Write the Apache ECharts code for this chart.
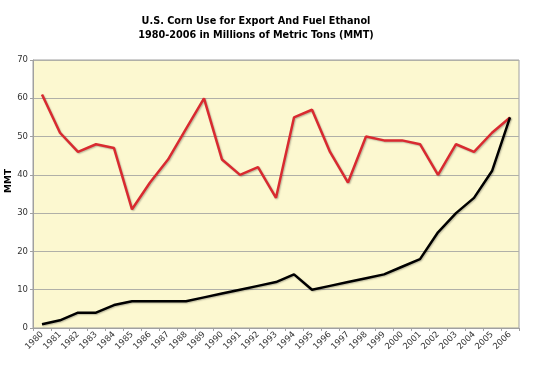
<!DOCTYPE html>
<html>
<head>
<meta charset="utf-8">
<script src="https://cdn.jsdelivr.net/npm/echarts@6/dist/echarts.min.js"></script>
<style>
  html, body { margin: 0; padding: 0; background: #fff; }
  #chart { width: 540px; height: 377px; }
</style>
</head>
<body>
<div id="chart"></div>
<script>
// years on the x axis
const years = ['1980', '1981', '1982', '1983', '1984', '1985', '1986', '1987', '1988', '1989',
  '1990', '1991', '1992', '1993', '1994', '1995', '1996', '1997', '1998', '1999',
  '2000', '2001', '2002', '2003', '2004', '2005', '2006']

// corn exported, MMT (red)
const exportUse = [61, 51, 46, 48, 47, 31, 38, 44, 52, 60,
  44, 40, 42, 34, 55, 57, 46, 38, 50, 49,
  49, 48, 40, 48, 46, 51, 55]

// corn for fuel ethanol, MMT (black)
const ethanolUse = [1, 2, 4, 4, 6, 7, 7, 7, 7, 8,
  9, 10, 11, 12, 14, 10, 11, 12, 13, 14,
  16, 18, 25, 30, 34, 41, 55]

const yTicks = [0, 10, 20, 30, 40, 50, 60, 70]

const font = 'DejaVu Sans, Verdana, sans-serif'
const lineShadow = {
  shadowColor: 'rgba(0,0,0,0.25)',
  shadowBlur: 1.5,
  shadowOffsetX: 1,
  shadowOffsetY: 1
}

let option = {
  animation: false,
  backgroundColor: '#fff',
  title: {
    text: 'U.S. Corn Use for Export And Fuel Ethanol\n1980-2006 in Millions of Metric Tons (MMT)',
    left: 251,
    top: 9,
    textAlign: 'center',
    textStyle: {
      fontFamily: font,
      fontSize: 9.7,
      fontWeight: 'bold',
      color: '#000',
      lineHeight: 14
    }
  },
  graphic: [{
    type: 'text',
    x: 9,
    y: 181,
    rotation: Math.PI / 2,
    style: {
      text: 'MMT',
      fontFamily: font,
      fontSize: 9,
      fontWeight: 'bold',
      fill: '#000',
      align: 'center',
      verticalAlign: 'middle'
    }
  }],
  grid: {
    left: 33,
    right: 21,
    top: 60,
    bottom: 49,
    show: true,
    backgroundColor: '#FCF8D0',
    borderColor: '#A0A0A0',
    borderWidth: 1
  },
  xAxis: {
    type: 'category',
    data: years,
    boundaryGap: true,
    axisLine: { lineStyle: { color: '#A0A0A0', width: 1 } },
    axisTick: { show: true, length: 3, lineStyle: { color: '#A0A0A0' } },
    axisLabel: {
      interval: 0,
      rotate: 45,
      margin: 5,
      fontFamily: font,
      fontSize: 8.5,
      color: '#333'
    },
    splitLine: { show: false }
  },
  yAxis: {
    type: 'value',
    min: yTicks[0],
    max: yTicks[yTicks.length - 1],
    interval: 10,
    axisLine: { show: true, lineStyle: { color: '#A0A0A0', width: 1 } },
    axisTick: { show: true, length: 3, lineStyle: { color: '#A0A0A0' } },
    axisLabel: {
      margin: 5,
      fontFamily: font,
      fontSize: 8.5,
      color: '#333'
    },
    splitLine: { show: true, lineStyle: { color: '#B0B0A8', width: 1 } }
  },
  series: [{
    name: 'Export',
    type: 'line',
    data: exportUse,
    symbol: 'none',
    lineStyle: Object.assign({ color: '#D92A30', width: 2.5 }, lineShadow)
  }, {
    name: 'Fuel Ethanol',
    type: 'line',
    data: ethanolUse,
    symbol: 'none',
    lineStyle: Object.assign({ color: '#000', width: 2.5 }, lineShadow)
  }]
}

let myChart = echarts.init(document.getElementById('chart'), null, { renderer: 'canvas' })
myChart.setOption(option)
</script>
</body>
</html>
